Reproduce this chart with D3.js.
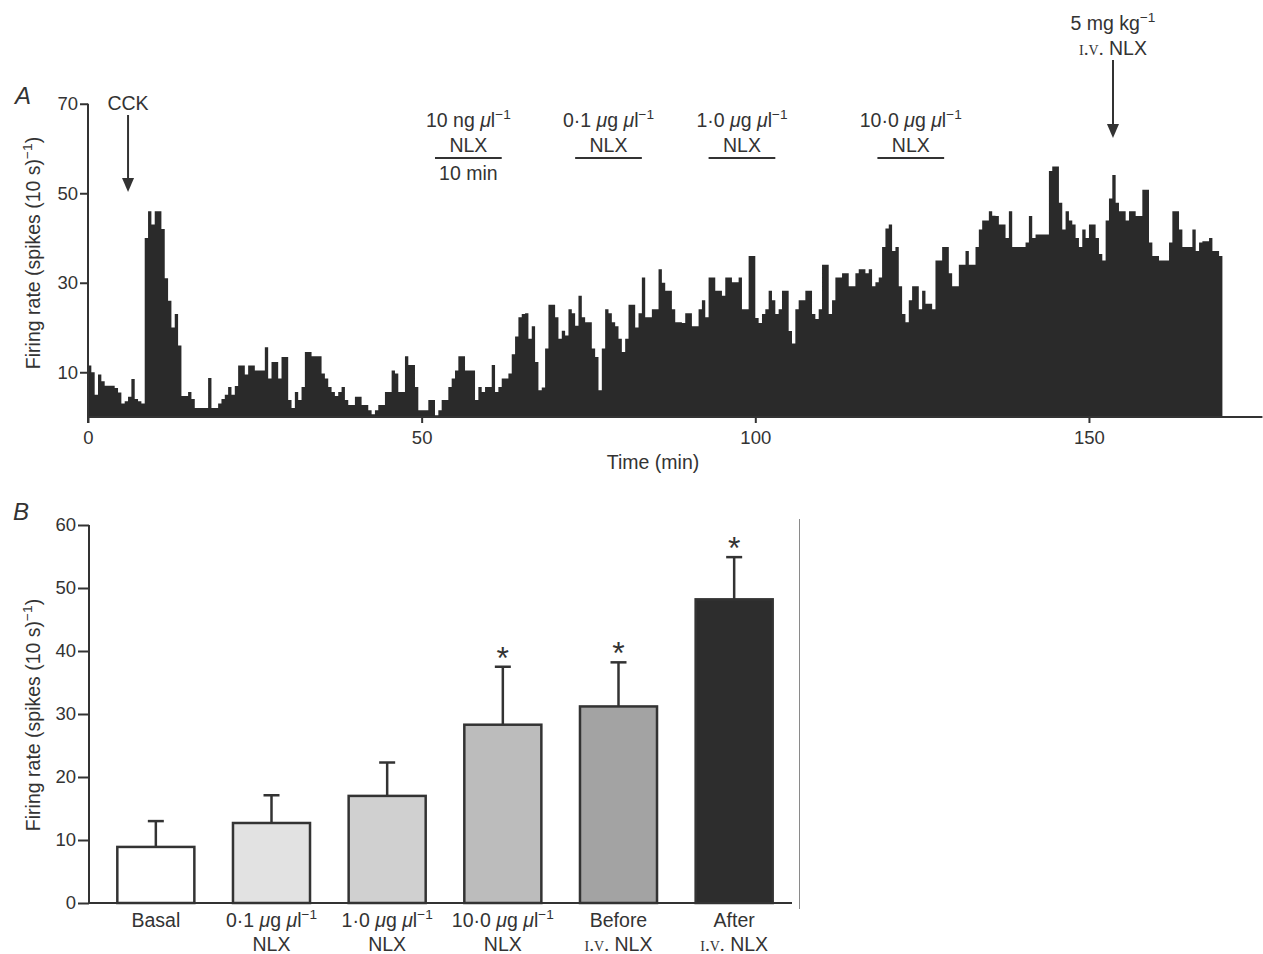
<!DOCTYPE html>
<html>
<head>
<meta charset="utf-8">
<script src="https://cdn.jsdelivr.net/npm/d3@7"></script>
<style>
  body { margin: 0; background: #fff; }
  svg { display: block; }
  text { font-family: "Liberation Sans", Arial, sans-serif; fill: #333; }
</style>
</head>
<body>
<svg id="fig" width="1263" height="954"></svg>
<script>
// ---- panel A: firing rate, 30 s bins, spikes per 10 s ----
var binMin = 0.5;
var rateA = [
  11.5,10,5,9.5,8,7,7,7,6.5,5.5,
  3,3.5,4.5,8.5,4,3.5,3,40,46,43,
  46,46,42,31,26,20,23,16,4.7,4.7,
  5.6,4,2,2,2,2,8.7,2,2,3,
  4,5,6.7,5,6.9,11.5,11.5,9.5,11.5,11.5,
  10.4,10.4,10.4,15.6,8.6,12.3,12.3,8.6,13.4,13.4,
  3.8,2,5.6,3.8,6.7,14.5,14.5,13.6,13.6,13.6,
  9.7,8.6,6.7,5.6,4.7,5.6,6.7,3.8,2.7,2.7,
  4.5,4.5,2.7,2.7,1.5,0.6,1.5,2.7,2.7,5.6,
  5.6,10.4,9.7,5.6,5.6,13.6,11.6,11.6,6.7,1.5,
  1.5,1.5,3.8,3.8,0.4,1.5,3.8,3.8,6.7,8.6,
  10.4,13.6,13.6,10.4,10.4,10.4,3.8,6.7,5.6,6.7,
  6.7,11.6,5.6,6.7,8.6,8.6,9.7,14,18,22.3,
  23,23.2,17.5,20.3,12.3,6,6.6,15.3,25.1,25.1,
  22.3,17.5,19.3,18.2,24.1,23.2,20.4,27.1,22.3,21.2,
  21.2,15.3,13.4,6,15.3,24.1,23.2,21.2,20.3,17.5,
  14.5,17.5,25.1,25.1,20,23.2,31.2,22.3,22.3,24.1,
  24.1,33,30,28.2,28.2,24.1,21.2,21.2,21,23.2,
  23.2,20.3,20.3,24.1,26.1,22.3,31.2,31.2,28.2,28.2,
  27.1,31.2,31.2,30.1,30.1,31.2,24.1,24.1,36,36,
  22.1,21,23,24.1,28.2,26.1,23,24.1,28.2,28.2,
  19.2,16.4,24.1,26.1,26.1,28.2,28.2,23,21.9,24.1,
  34,34,23,26.1,31.2,31.2,32.1,32.1,29.2,29.2,
  32.1,33,33,32.1,33,29.2,30.1,31.2,38,42.1,
  43,37.1,38,29.2,23,21.2,26.1,29.2,29.2,24.1,
  28.2,25.3,25.3,24.1,35,35,38,38,32.1,29.2,
  29.2,34,34,37.1,34,34,38,41.9,43.9,43.9,
  46,45,44.9,43,43,40,46,38,38,38,
  38,39,44.9,40,40.8,40.8,40.8,40.8,55,56,
  56,47.9,41.9,46,43.9,43,40,38,41.9,40,
  43,43,40,36.4,35,43.9,48.8,54.1,47.9,46,
  46,43.9,46,46,44.9,44.9,50.8,50.8,39,36,
  36,35,35,35,39,46,46,41.9,38,38,
  38,41.9,37.1,39,39.3,39.3,40,37.1,37.1,36
];
var yTicksA = [10, 30, 50, 70];
var xTicksA = [0, 50, 100, 150];

// local NLX applications (start, 10 min each) and injections
var drugText = ["10 ng μl^−1", "0·1 μg μl^−1", "1·0 μg μl^−1", "10·0 μg μl^−1"];
var drugStart = [52, 73, 93, 118.3];
var drugLength = 10;
var cckTime = 6.0;
var ivTime = 153.6;

// ---- panel B: mean firing rate + s.e.m. ----
var barLine1 = ["Basal", "0·1 μg μl^−1", "1·0 μg μl^−1", "10·0 μg μl^−1", "Before", "After"];
var barLine2 = ["", "NLX", "NLX", "NLX", "i.v. NLX", "i.v. NLX"];
var barMean = [8.9, 12.7, 17.0, 28.3, 31.2, 48.2];
var barSem = [4.1, 4.4, 5.3, 9.2, 7.0, 6.7];
var barStar = [false, false, false, true, true, true];
var barFill = ["#ffffff", "#e2e2e2", "#d0d0d0", "#bcbcbc", "#a3a3a3", "#2d2d2d"];
var yTicksB = [0, 10, 20, 30, 40, 50, 60];

var ink = "#333";
var fsTick = 18.5, fsLab = 19.5;
var svg = d3.select("#fig");

// text with italic mu, superscript "^..." and small caps "i.v."
function rich(sel, str, fs) {
  var up = false;
  str.split(/(μ|i\.v\.|\^−1)/).forEach(function(p) {
    if (p === "") return;
    var ts = sel.append("tspan");
    if (p === "μ") ts.text(p).style("font-style", "italic");
    else if (p === "i.v.") ts.text(p).style("font-variant", "small-caps").style("font-family", "'Liberation Serif', serif");
    else if (p.charAt(0) === "^") {
      ts.text(p.slice(1)).attr("font-size", fs * 0.7).attr("dy", -fs * 0.42);
      up = true;
      return;
    } else ts.text(p);
    if (up) { ts.attr("dy", fs * 0.42); up = false; }
  });
  return sel;
}

function arrowDown(x, y0, y1) {
  svg.append("line").attr("x1", x).attr("x2", x).attr("y1", y0).attr("y2", y1 - 10)
    .attr("stroke", ink).attr("stroke-width", 2);
  svg.append("path").attr("d", "M" + (x - 6) + "," + (y1 - 14) + "L" + (x + 6) + "," + (y1 - 14) + "L" + x + "," + y1 + "Z")
    .attr("fill", ink);
}

// ================= PANEL A =================
var xA = d3.scaleLinear().domain([0, 176]).range([88, 88 + 176 * 6.673]);
var yA = d3.scaleLinear().domain([0, 70]).range([417, 103.75]);

var pts = rateA.map(function(v, i) { return [i * binMin, v]; });
pts.push([rateA.length * binMin, rateA[rateA.length - 1]]);

var area = d3.area()
  .x(function(d) { return xA(d[0]); })
  .y0(yA(0))
  .y1(function(d) { return yA(d[1]); })
  .curve(d3.curveStepAfter);

svg.append("path").datum(pts).attr("d", area).attr("fill", "#2a2a2a");

var gyA = svg.append("g").attr("transform", "translate(88,0)")
  .call(d3.axisLeft(yA).tickValues(yTicksA).tickSize(8).tickPadding(2));
var gxA = svg.append("g").attr("transform", "translate(0,417)")
  .call(d3.axisBottom(xA).tickValues(xTicksA).tickSize(6).tickPadding(8));
[gyA, gxA].forEach(function(g) {
  g.select(".domain").remove();
  g.selectAll(".tick line").attr("stroke", ink).attr("stroke-width", 2);
  g.selectAll(".tick text").attr("font-size", fsTick).attr("fill", ink)
    .attr("font-family", "'Liberation Sans', Arial, sans-serif");
});
svg.append("line").attr("x1", 88).attr("x2", 88).attr("y1", yA(70)).attr("y2", 423)
  .attr("stroke", ink).attr("stroke-width", 2);
svg.append("line").attr("x1", 88).attr("x2", xA(176)).attr("y1", 417).attr("y2", 417)
  .attr("stroke", ink).attr("stroke-width", 2);

svg.append("text").attr("x", 15).attr("y", 104).attr("font-size", 24).style("font-style", "italic").text("A");
rich(svg.append("text").attr("transform", "translate(40,253) rotate(-90)").attr("text-anchor", "middle")
  .attr("font-size", fsLab), "Firing rate (spikes (10 s)^−1)", fsLab);
svg.append("text").attr("x", 653).attr("y", 469).attr("text-anchor", "middle").attr("font-size", fsLab).text("Time (min)");

// drug bars
drugText.forEach(function(t, i) {
  var x0 = xA(drugStart[i]), x1 = xA(drugStart[i] + drugLength), xm = (x0 + x1) / 2;
  rich(svg.append("text").attr("x", xm).attr("y", 127).attr("text-anchor", "middle").attr("font-size", fsLab), t, fsLab);
  svg.append("text").attr("x", xm).attr("y", 152).attr("text-anchor", "middle").attr("font-size", fsLab).text("NLX");
  svg.append("line").attr("x1", x0).attr("x2", x1).attr("y1", 158).attr("y2", 158)
    .attr("stroke", ink).attr("stroke-width", 2);
  if (i === 0) svg.append("text").attr("x", xm).attr("y", 180).attr("text-anchor", "middle").attr("font-size", fsLab).text("10 min");
});

svg.append("text").attr("x", xA(cckTime)).attr("y", 110).attr("text-anchor", "middle").attr("font-size", fsLab).text("CCK");
arrowDown(xA(cckTime), 115, 192);

rich(svg.append("text").attr("x", xA(ivTime)).attr("y", 30).attr("text-anchor", "middle").attr("font-size", fsLab), "5 mg kg^−1", fsLab);
rich(svg.append("text").attr("x", xA(ivTime)).attr("y", 55).attr("text-anchor", "middle").attr("font-size", fsLab), "i.v. NLX", fsLab);
arrowDown(xA(ivTime), 60, 138);

// ================= PANEL B =================
var xB = d3.scaleBand().domain(d3.range(barMean.length)).range([98, 792]).paddingInner(0.334).paddingOuter(0.167);
var yB = d3.scaleLinear().domain([0, 60]).range([903, 525]);

var bars = svg.append("g");
barMean.forEach(function(m, i) {
  var x = xB(i), w = xB.bandwidth(), cx = x + w / 2;
  var top = yB(m + barSem[i]);
  bars.append("line").attr("x1", cx).attr("x2", cx).attr("y1", yB(m)).attr("y2", top)
    .attr("stroke", ink).attr("stroke-width", 2.5);
  bars.append("line").attr("x1", cx - 8).attr("x2", cx + 8).attr("y1", top).attr("y2", top)
    .attr("stroke", ink).attr("stroke-width", 2.5);
  bars.append("rect").attr("x", x).attr("y", yB(m)).attr("width", w).attr("height", yB(0) - yB(m))
    .attr("fill", barFill[i]).attr("stroke", ink).attr("stroke-width", 2.5);
  if (barStar[i]) bars.append("text").attr("x", cx).attr("y", top + 2).attr("text-anchor", "middle")
    .attr("font-size", 32).text("*");
  rich(bars.append("text").attr("x", cx).attr("y", 927).attr("text-anchor", "middle").attr("font-size", fsLab), barLine1[i], fsLab);
  if (barLine2[i]) rich(bars.append("text").attr("x", cx).attr("y", 951).attr("text-anchor", "middle").attr("font-size", fsLab), barLine2[i], fsLab);
});

var gyB = svg.append("g").attr("transform", "translate(89,0)")
  .call(d3.axisLeft(yB).tickValues(yTicksB).tickSize(11).tickPadding(2));
gyB.select(".domain").remove();
gyB.selectAll(".tick line").attr("stroke", ink).attr("stroke-width", 2);
gyB.selectAll(".tick text").attr("font-size", fsTick).attr("fill", ink)
  .attr("font-family", "'Liberation Sans', Arial, sans-serif");
svg.append("line").attr("x1", 89).attr("x2", 89).attr("y1", yB(60)).attr("y2", yB(0))
  .attr("stroke", ink).attr("stroke-width", 2);
svg.append("line").attr("x1", 89).attr("x2", 792).attr("y1", yB(0)).attr("y2", yB(0))
  .attr("stroke", ink).attr("stroke-width", 2);
svg.append("line").attr("x1", 799.5).attr("x2", 799.5).attr("y1", 519).attr("y2", 909)
  .attr("stroke", "#8a8a8a").attr("stroke-width", 1);

svg.append("text").attr("x", 13).attr("y", 520).attr("font-size", 24).style("font-style", "italic").text("B");
rich(svg.append("text").attr("transform", "translate(40,715) rotate(-90)").attr("text-anchor", "middle")
  .attr("font-size", fsLab), "Firing rate (spikes (10 s)^−1)", fsLab);
</script>
</body>
</html>
